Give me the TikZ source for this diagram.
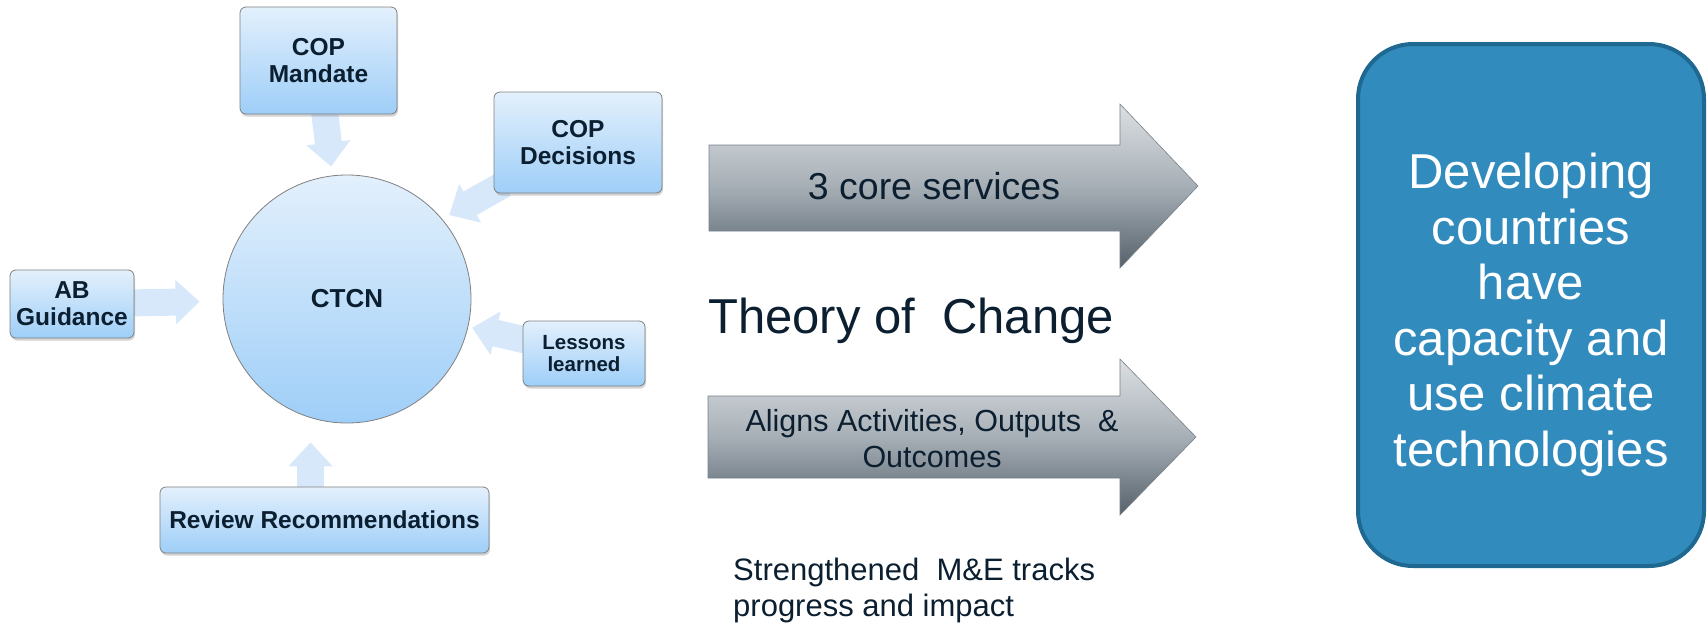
\documentclass[tikz,border=0pt]{standalone}
\usepackage{fontspec}
\setmainfont{Liberation Sans}
\usetikzlibrary{arrows.meta,shadows}
\pgfdeclarelayer{background}
\pgfsetlayers{background,main}
\definecolor{boxtop}{HTML}{E3F0FC}
\definecolor{boxbot}{HTML}{9ECEF8}
\definecolor{feedblue}{HTML}{D6E8FA}
\definecolor{inktext}{HTML}{0B1F30}
\definecolor{goalfill}{HTML}{318BBD}
\definecolor{goalline}{HTML}{1E6891}
\definecolor{steeltop}{HTML}{DCE0E3}
\definecolor{steelmid}{HTML}{A7AFB6}
\definecolor{steelbot}{HTML}{55616B}
\begin{document}
\begin{tikzpicture}[x=1pt,y=-1pt,
    inbox/.style={draw=gray,line width=0.8pt,rounded corners=6pt,top color=boxtop,bottom color=boxbot,
      drop shadow={shadow xshift=1pt,shadow yshift=-2.5pt,opacity=0.35},
      text=inktext,font=\bfseries\fontsize{24.5}{27}\selectfont,align=center,inner sep=0pt},
    feed/.style={draw=feedblue,line width=27pt,shorten <=-12pt,-{Triangle[width=43pt,length=24pt]}},
    steel/.style={top color=steeltop,bottom color=steelbot,middle color=steelmid,draw=steelbot!80,line width=0.6pt},
    plain/.style={text=inktext,align=center,inner sep=0pt}]
  \useasboundingbox (0,0) rectangle (1708,624);
  % inputs round the network
  \node[inbox,minimum width=157pt,minimum height=107pt] (mandate) at (318.5,60.5) {COP\\Mandate};
  \node[inbox,minimum width=168pt,minimum height=101pt] (decisions) at (578,142.5) {COP\\Decisions};
  \node[inbox,minimum width=124pt,minimum height=68pt] (guidance) at (72,304) {AB\\Guidance};
  \node[inbox,minimum width=122pt,minimum height=65pt,font=\bfseries\fontsize{20.5}{22}\selectfont] (lessons) at (584,353.5) {Lessons\\learned};
  \node[inbox,minimum width=329pt,minimum height=66pt] (review) at (324.5,520) {Review Recommendations};
  \node[circle,draw=gray,line width=0.8pt,top color=boxtop,bottom color=boxbot,minimum size=248pt,inner sep=0pt,
    text=inktext,font=\bfseries\fontsize{26}{28}\selectfont] (ctcn) at (347,299) {CTCN};
  \begin{pgfonlayer}{background}
    \draw[feed,shorten >=9pt] (mandate) -- (ctcn);
    \draw[feed,shorten >=8pt] (decisions) -- (ctcn.40);
    \draw[feed,shorten >=23pt] (guidance) -- (ctcn);
    \draw[feed,shorten >=4pt] (lessons) -- (ctcn);
    \draw[feed,shorten >=19pt] ([xshift=-14pt]review.north) -- ([xshift=-14pt]review.north |- ctcn.south);
  \end{pgfonlayer}
  % theory of change
  \path[steel] (709,145) -- (1120,145) -- (1120,104) -- (1198,186) -- (1120,268) -- (1120,231) -- (709,231) -- cycle;
  \node[plain,font=\fontsize{37.5}{40}\selectfont] (core) at (934,186) {3 core services};
  \node[plain,font=\fontsize{49}{52}\selectfont] (toc) at (911,321) {Theory of~ Change};
  \path[steel] (708,396) -- (1120,396) -- (1120,359) -- (1196,437) -- (1120,515) -- (1120,478) -- (708,478) -- cycle;
  \node[plain,font=\fontsize{30.5}{36}\selectfont] (aligns) at (932,439) {Aligns Activities, Outputs~ \&\\Outcomes};
  \node[plain,align=left,anchor=west,font=\fontsize{31}{36}\selectfont] (mande) at (733,590) {Strengthened~ M\&E tracks\\progress and impact};
  % outcome
  \node[draw=goalline,line width=4pt,fill=goalfill,rounded corners=55pt,minimum width=346pt,minimum height=522pt] (goal) at (1531,305) {};
  \node[text=white,align=center,inner sep=0pt,font=\fontsize{49}{55.5}\selectfont] (goaltext) at ([yshift=-10pt]goal.center)
    {Developing\\countries\\have\\capacity and\\use climate\\technologies};
\end{tikzpicture}
\end{document}
